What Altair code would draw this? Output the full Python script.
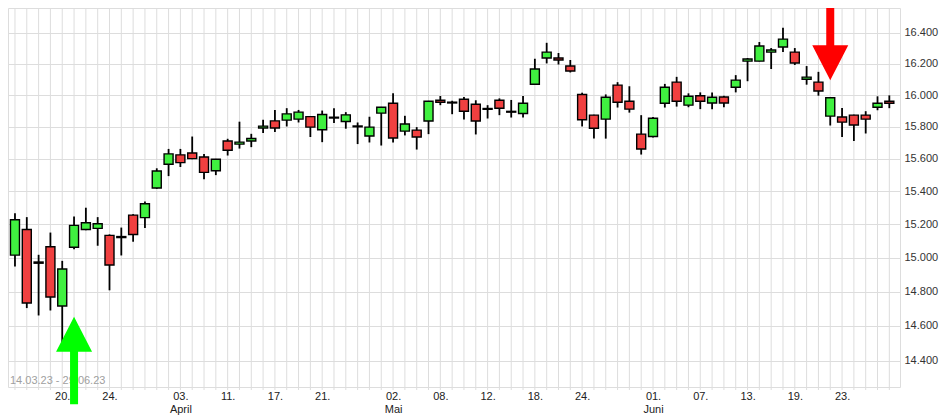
import altair as alt
import pandas as pd

# ---- data (DAX daily candles) ----
dates = [
    "14.03.23", "15.03.23", "16.03.23", "17.03.23", "20.03.23", "21.03.23", "22.03.23", "23.03.23",
    "24.03.23", "27.03.23", "28.03.23", "29.03.23", "30.03.23", "31.03.23",
    "03.04.23", "04.04.23", "05.04.23", "06.04.23", "11.04.23", "12.04.23", "13.04.23", "14.04.23",
    "17.04.23", "18.04.23", "19.04.23", "20.04.23", "21.04.23", "24.04.23", "25.04.23", "26.04.23",
    "27.04.23", "28.04.23",
    "02.05.23", "03.05.23", "04.05.23", "05.05.23", "08.05.23", "09.05.23", "10.05.23", "11.05.23",
    "12.05.23", "15.05.23", "16.05.23", "17.05.23", "18.05.23", "19.05.23", "22.05.23", "23.05.23",
    "24.05.23", "25.05.23", "26.05.23", "29.05.23", "30.05.23", "31.05.23",
    "01.06.23", "02.06.23", "05.06.23", "06.06.23", "07.06.23", "08.06.23", "09.06.23", "12.06.23",
    "13.06.23", "14.06.23", "15.06.23", "16.06.23", "19.06.23", "20.06.23", "21.06.23", "22.06.23",
    "23.06.23", "26.06.23", "27.06.23", "28.06.23", "29.06.23",
]
open_ = [
    15016, 15169, 14975, 15066, 14716, 15063, 15169, 15176, 15134, 15121, 15256, 15241, 15421, 15567,
    15625, 15637, 15612, 15527, 15711, 15692, 15711, 15792, 15837, 15842, 15848, 15864, 15781, 15855,
    15833, 15805, 15742, 15886,
    15948, 15773, 15779, 15836, 15967, 15955, 15973, 15942, 15915, 15967, 15897, 15883, 16069, 16237,
    16237, 16185, 16004, 15873, 15848, 16063, 15961, 15754,
    15739, 15948, 16082, 15936, 15996, 15950, 15988, 16050, 16217, 16217, 16275, 16308, 16275, 16101,
    16082, 15867, 15861, 15873, 15873, 15923, 15961,
]
high = [
    15268, 15244, 15018, 15151, 14982, 15248, 15301, 15244, 15140, 15181, 15262, 15339, 15542, 15662,
    15662, 15739, 15631, 15600, 15725, 15832, 15756, 15844, 15906, 15917, 15906, 15866, 15902, 15917,
    15892, 15827, 15863, 15925,
    16011, 15869, 15798, 15963, 15994, 15964, 15988, 15967, 15936, 15979, 15969, 15994, 16232, 16335,
    16269, 16224, 16015, 15876, 16004, 16082, 16056, 15873,
    15861, 16071, 16116, 16011, 16017, 16017, 15996, 16127, 16237, 16340, 16301, 16432, 16301, 16185,
    16148, 15985, 15918, 15876, 15898, 15992, 15998,
]
low = [
    14949, 14704, 14661, 14690, 14460, 15051, 15165, 15072, 14808, 15014, 15096, 15178, 15416, 15494,
    15550, 15598, 15475, 15500, 15621, 15664, 15673, 15761, 15767, 15802, 15827, 15736, 15704, 15823,
    15788, 15692, 15702, 15683,
    15702, 15746, 15658, 15754, 15936, 15879, 15846, 15752, 15852, 15873, 15858, 15858, 16066, 16202,
    16195, 16144, 15802, 15726, 15726, 15921, 15889, 15627,
    15733, 15921, 15927, 15923, 15911, 15911, 15923, 16017, 16088, 16215, 16166, 16275, 16192, 16066,
    15996, 15808, 15736, 15711, 15758, 15904, 15917,
]
close = [
    15228, 14734, 14968, 14769, 14934, 15194, 15210, 15204, 14957, 15127, 15139, 15325, 15525, 15631,
    15577, 15602, 15517, 15598, 15654, 15704, 15727, 15804, 15792, 15881, 15892, 15798, 15877, 15860,
    15875, 15800, 15798, 15923,
    15730, 15817, 15736, 15961, 15954, 15950, 15898, 15836, 15910, 15917, 15892, 15948, 16166, 16275,
    16224, 16153, 15844, 15791, 15986, 15954, 15911, 15661,
    15854, 16050, 15961, 15992, 15961, 15986, 15950, 16095, 16230, 16314, 16288, 16359, 16205, 16114,
    16026, 15983, 15829, 15811, 15848, 15948, 15948,
]

# axis tick labels
tick_dates = ["20.03.23", "24.03.23", "03.04.23", "11.04.23", "17.04.23", "21.04.23", "02.05.23",
              "08.05.23", "12.05.23", "18.05.23", "24.05.23", "01.06.23", "07.06.23", "13.06.23",
              "19.06.23", "23.06.23"]
tick_labels = ["20.", "24.", "03.", "11.", "17.", "21.", "02.", "08.", "12.", "18.", "24.", "01.",
               "07.", "13.", "19.", "23."]
month_dates = ["03.04.23", "02.05.23", "01.06.23"]
month_labels = ["April", "Mai", "Juni"]
price_ticks = [14400, 14600, 14800, 15000, 15200, 15400, 15600, 15800, 16000, 16200, 16400]

# signal arrows (date and price of the arrow tip)
arrow_up_date, arrow_up_tip = "21.03.23", 14654
arrow_down_date, arrow_down_tip = "22.06.23", 16095

GREEN = "#40f040"
RED = "#f04040"
GRID = "#dddddd"

df = pd.DataFrame({
    "date": dates, "i": list(range(len(dates))),
    "open": open_, "high": high, "low": low, "close": close,
})
df["dir"] = ["up" if c >= o else "down" for o, c in zip(open_, close)]

# x-axis label expression
tick_idx = [dates.index(d) for d in tick_dates]
parts = []
for d, idx, lab in zip(tick_dates, tick_idx, tick_labels):
    if d in month_dates:
        m = month_labels[month_dates.index(d)]
        parts.append(f"datum.value == {idx} ? ['{lab}', '{m}']")
    else:
        parts.append(f"datum.value == {idx} ? '{lab}'")
x_label_expr = " : ".join(parts) + " : ''"

x_scale = alt.Scale(domain=[-0.167, 74.48], nice=False, zero=False)
y_scale = alt.Scale(type="log", domain=[14251, 16562], nice=False, zero=False)

x_axis = alt.Axis(values=tick_idx, labelExpr=x_label_expr, grid=False, ticks=False,
                  domain=False, labelFontSize=11, labelColor="#222222", labelPadding=3,
                  labelLineHeight=13, labelAngle=0, labelOverlap=False, labelFlush=False,
                  labelBound=False, title=None, labelFont="Liberation Sans")
y_axis = alt.Axis(orient="right", values=price_ticks,
                  labelExpr="replace(format(datum.value, ','), ',', '.')",
                  grid=True, gridColor=GRID, ticks=False, tickSize=0, domain=False,
                  labelFontSize=11, labelColor="#333333", labelPadding=4, title=None,
                  labelFont="Liberation Sans")

base = alt.Chart(df)

# vertical grid line (with small tick below the plot) at every trading day
vgrid = base.mark_rule(color=GRID, strokeWidth=1).encode(
    x=alt.X("i:Q", scale=x_scale, axis=x_axis),
    y=alt.value(0),
    y2=alt.value(382),
)

wicks = base.mark_rule(color="black", strokeWidth=1.8).encode(
    x=alt.X("i:Q", scale=x_scale),
    y=alt.Y("low:Q", scale=y_scale, axis=y_axis),
    y2="high:Q",
)

bodies = base.mark_bar(size=9, stroke="black", strokeWidth=1.4).encode(
    x=alt.X("i:Q", scale=x_scale),
    y=alt.Y("open:Q", scale=y_scale),
    y2="close:Q",
    color=alt.Color("dir:N", scale=alt.Scale(domain=["up", "down"], range=[GREEN, RED]), legend=None),
)

range_text = alt.Chart(pd.DataFrame({"t": [f"{dates[0]} - {dates[-1]}"]})).mark_text(
    align="left", baseline="middle", fontSize=11, color="#a0a0a0", font="Liberation Sans"
).encode(text="t:N", x=alt.value(2), y=alt.value(373))

UP_PATH = "M0,0 L1.8,3.5 L0.4,3.5 L0.4,8.75 L-0.4,8.75 L-0.4,3.5 L-1.8,3.5 Z"
DOWN_PATH = "M0,0 L1.8,-3.5 L0.4,-3.5 L0.4,-8.5 L-0.4,-8.5 L-0.4,-3.5 L-1.8,-3.5 Z"

arrow_up = alt.Chart(pd.DataFrame({"i": [dates.index(arrow_up_date)], "p": [arrow_up_tip]})).mark_point(
    shape=UP_PATH, filled=True, size=400, color="#00ff00", opacity=1, strokeWidth=0
).encode(x=alt.X("i:Q", scale=x_scale), y=alt.Y("p:Q", scale=y_scale))

arrow_down = alt.Chart(pd.DataFrame({"i": [dates.index(arrow_down_date)], "p": [arrow_down_tip]})).mark_point(
    shape=DOWN_PATH, filled=True, size=400, color="#ff0000", opacity=1, strokeWidth=0
).encode(x=alt.X("i:Q", scale=x_scale), y=alt.Y("p:Q", scale=y_scale))

chart = alt.layer(vgrid, wicks, range_text, bodies, arrow_up, arrow_down).properties(
    width=892, height=379,
    autosize=alt.AutoSizeParams(type="none"),
    padding={"left": 0, "top": 0, "right": 42, "bottom": 30},
    background="white",
).configure_view(stroke=GRID, strokeWidth=1)

chart.save("out.html", embed_options={"renderer": "svg", "actions": False})
